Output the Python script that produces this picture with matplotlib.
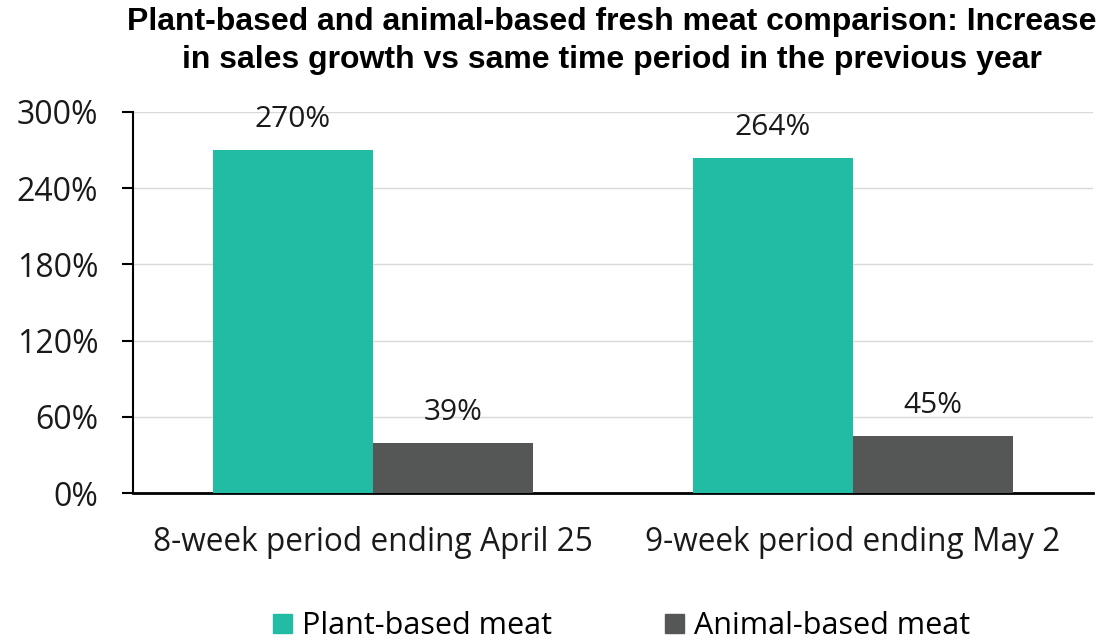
import matplotlib
matplotlib.use("Agg")
import matplotlib.pyplot as plt
import numpy as np
from matplotlib.patches import Patch

categories = ["8-week period ending April 25", "9-week period ending May 2"]
series_names = ["Plant-based meat", "Animal-based meat"]
plant_values = [270, 264]
animal_values = [39, 45]
yticks = [0, 60, 120, 180, 240, 300]
colors = ["#22BBA3", "#545756"]

plt.rcParams['font.family'] = ['Open Sans', 'DejaVu Sans']

fig = plt.figure(figsize=(11.01, 6.44), dpi=100)
ax = fig.add_axes([133/1101, 1-493/644, 960/1101, 381/644])

x = np.arange(len(categories))
w = 1/3
b1 = ax.bar(x - w/2, plant_values, w, color=colors[0], zorder=3)
b2 = ax.bar(x + w/2, animal_values, w, color=colors[1], zorder=3)
for bars, vals in ((b1, plant_values), (b2, animal_values)):
    for r, v in zip(bars, vals):
        ax.text(r.get_x() + r.get_width()/2, v + 24, f"{v}%", ha="center", va="center",
                fontsize=21.5, color="#1a1a1a")

ax.set_xlim(-0.5, 1.5)
ax.set_ylim(0, 300)
ax.set_yticks(yticks)
ax.set_yticklabels([f"{t}%" for t in yticks])
ax.set_xticks(x)
ax.set_xticklabels(categories)
ax.tick_params(axis="y", length=8, width=1.5, pad=17, labelsize=23, labelcolor="#1a1a1a")
ax.tick_params(axis="x", length=0, pad=24, labelsize=22.8, labelcolor="#1a1a1a")
ax.grid(axis="y", color="#d9d9d9", linewidth=1, zorder=0)
for s in ("top", "right"):
    ax.spines[s].set_visible(False)
ax.spines["left"].set_linewidth(1.5)
ax.spines["bottom"].set_linewidth(2)

fig.text(612/1101, 1-41/644,
         "Plant-based and animal-based fresh meat comparison: Increase\nin sales growth vs same time period in the previous year",
         ha="center", va="center", fontsize=23, fontweight="bold",
         family=["Liberation Sans", "DejaVu Sans"], linespacing=1.35)

handles = [Patch(color=c) for c in colors]
fig.legend(handles, series_names, loc="center", bbox_to_anchor=(622/1101, 1-626/644),
           ncol=2, frameon=False, fontsize=22, handlelength=0.6, handleheight=0.6,
           handletextpad=0.35, columnspacing=3.7)

fig.savefig("out.png", dpi=100)
